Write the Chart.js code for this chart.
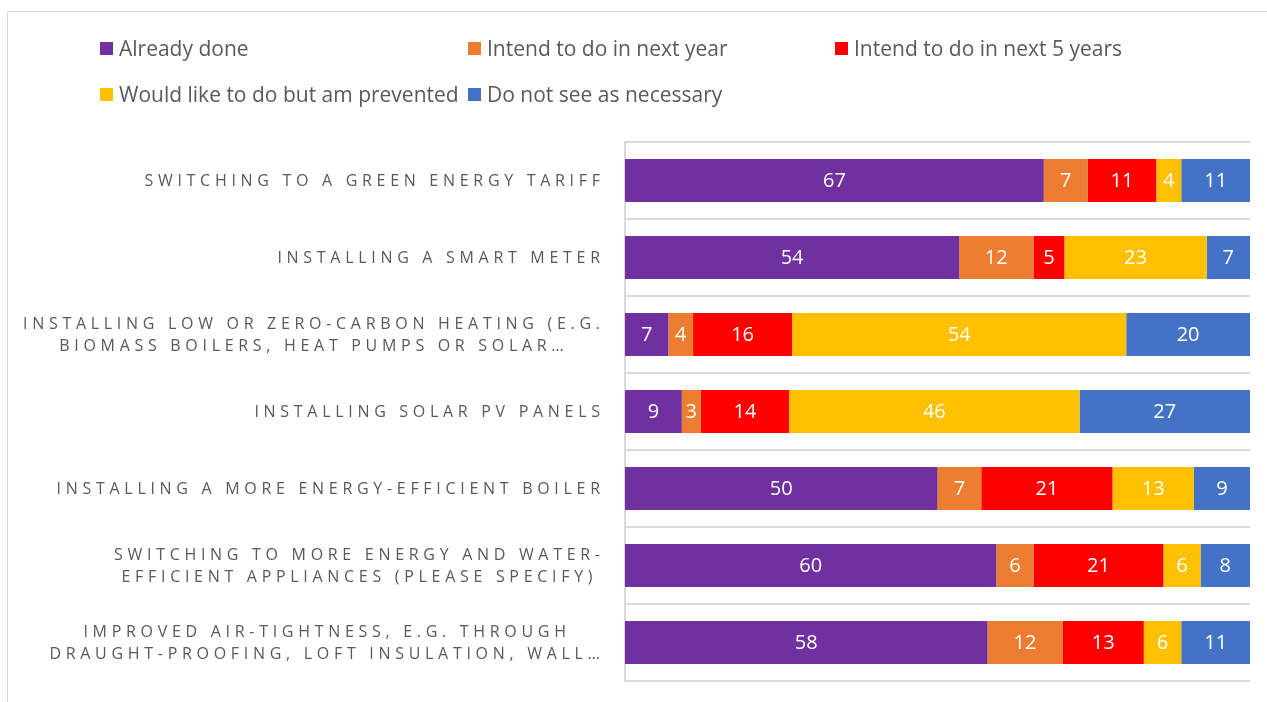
<!DOCTYPE html>
<html>
<head>
<meta charset="utf-8">
<script src="https://cdn.jsdelivr.net/npm/chart.js@4.4.0/dist/chart.umd.min.js"></script>
<style>
  body { margin: 0; background: #fff; }
  #wrap { position: relative; width: 1267px; height: 702px; overflow: hidden; }
  #frame { position: absolute; left: 7px; top: 11px; width: 1400px; height: 800px;
           border-left: 1px solid #d9d9d9; border-top: 1px solid #d9d9d9; }
  #chart { position: absolute; left: 0; top: 0; }
  #legend { position: absolute; left: 100px; top: 25px; display: grid;
            grid-template-columns: 368px 367px 400px; grid-auto-rows: 46px;
            font: 21px "Open Sans", sans-serif; color: #595959; }
  .item { display: flex; align-items: center; white-space: nowrap; }
  .sw { width: 13px; height: 13px; margin-right: 6px; flex: none; }
</style>
</head>
<body>
<div id="wrap">
  <div id="frame"></div>
  <canvas id="chart" width="1267" height="702"></canvas>
  <div id="legend"></div>
</div>
<script>
'use strict';

// DATA
// ====
var categories = [
    ['SWITCHING TO A GREEN ENERGY TARIFF'],
    ['INSTALLING A SMART METER'],
    ['INSTALLING LOW OR ZERO-CARBON HEATING (E.G.', 'BIOMASS BOILERS, HEAT PUMPS OR SOLAR\u2026'],
    ['INSTALLING SOLAR PV PANELS'],
    ['INSTALLING A MORE ENERGY-EFFICIENT BOILER'],
    ['SWITCHING TO MORE ENERGY AND WATER-', 'EFFICIENT APPLIANCES (PLEASE SPECIFY)'],
    ['IMPROVED AIR-TIGHTNESS, E.G. THROUGH', 'DRAUGHT-PROOFING, LOFT INSULATION, WALL\u2026']
];
var seriesNames = ['Already done', 'Intend to do in next year', 'Intend to do in next 5 years',
    'Would like to do but am prevented', 'Do not see as necessary'];
var alreadyDone  = [67, 54,  7,  9, 50, 60, 58];
var nextYear     = [ 7, 12,  4,  3,  7,  6, 12];
var next5Years   = [11,  5, 16, 14, 21, 21, 13];
var prevented    = [ 4, 23, 54, 46, 13,  6,  6];
var notNecessary = [11,  7, 20, 27,  9,  8, 11];

var colors = ['#7030A0', '#ED7D31', '#FF0000', '#FFC000', '#4472C4'];
var series = [alreadyDone, nextYear, next5Years, prevented, notNecessary];

// 100% stacked: share of each row total
var rowTotals = categories.map(function (c, i) {
    return series.reduce(function (s, arr) { return s + arr[i]; }, 0);
});

// LEGEND
// ======
var legendEl = document.getElementById('legend');
seriesNames.forEach(function (name, i) {
    var item = document.createElement('div');
    item.className = 'item';
    item.innerHTML = '<span class="sw" style="background:' + colors[i] + '"></span>' + name;
    legendEl.appendChild(item);
});

// PLUGINS
// =======
var LABEL_FONT = '16px "Open Sans"';
var LABEL_SPACING = 4.7;

var spacedWidth = function (ctx, text) {
    var w = 0;
    for (var k = 0; k < text.length; k++) w += ctx.measureText(text[k]).width;
    return w + LABEL_SPACING * (text.length - 1);
};

var drawSpaced = function (ctx, text, x, y) {
    for (var k = 0; k < text.length; k++) {
        ctx.fillText(text[k], x, y);
        x += ctx.measureText(text[k]).width + LABEL_SPACING;
    }
};

var categoryLabels = {
    id: 'categoryLabels',
    afterDraw: function (chart) {
        var ctx = chart.ctx;
        var yScale = chart.scales.y;
        var rightEdge = yScale.right - 25;
        ctx.save();
        ctx.font = LABEL_FONT;
        ctx.fillStyle = '#595959';
        ctx.textBaseline = 'middle';
        ctx.textAlign = 'left';
        categories.forEach(function (lines, i) {
            var yc = yScale.getPixelForTick(i);
            var widths = lines.map(function (l) { return spacedWidth(ctx, l); });
            var maxW = Math.max.apply(null, widths);
            var center = rightEdge - maxW / 2;
            var lineH = 22;
            var y0 = yc - (lines.length - 1) * lineH / 2;
            lines.forEach(function (l, j) {
                drawSpaced(ctx, l, center - widths[j] / 2, y0 + j * lineH + 1);
            });
        });
        ctx.restore();
    }
};

var barValues = {
    id: 'barValues',
    afterDatasetsDraw: function (chart) {
        var ctx = chart.ctx;
        ctx.save();
        ctx.font = '20px "Open Sans"';
        ctx.fillStyle = '#ffffff';
        ctx.textAlign = 'center';
        ctx.textBaseline = 'middle';
        chart.data.datasets.forEach(function (ds, di) {
            chart.getDatasetMeta(di).data.forEach(function (bar, i) {
                var raw = series[di][i];
                ctx.fillText(String(raw), (bar.x + bar.base) / 2, bar.y + 1);
            });
        });
        ctx.restore();
    }
};

// CHART
// =====
var ctx = document.getElementById('chart');
var myChart = new Chart(ctx, {
    type: 'bar',
    data: {
        labels: categories.map(function (c) { return c.join(' '); }),
        datasets: series.map(function (arr, s) {
            return {
                label: seriesNames[s],
                data: arr.map(function (v, i) { return v / rowTotals[i] * 100; }),
                backgroundColor: colors[s],
                borderWidth: 0,
                categoryPercentage: 0.56,
                barPercentage: 1
            };
        })
    },
    options: {
        indexAxis: 'y',
        responsive: false,
        animation: false,
        layout: { padding: { top: 142, bottom: 21, right: 17, left: 0 } },
        plugins: {
            legend: { display: false },
            tooltip: { enabled: false }
        },
        scales: {
            x: {
                stacked: true,
                min: 0,
                max: 100,
                display: false
            },
            y: {
                stacked: true,
                ticks: { display: false },
                grid: { offset: true, color: '#d9d9d9', lineWidth: 2, drawTicks: false },
                border: { display: true, color: '#d9d9d9', width: 2 },
                afterFit: function (scale) { scale.width = 625; }
            }
        }
    },
    plugins: [categoryLabels, barValues]
});
</script>
</body>
</html>
